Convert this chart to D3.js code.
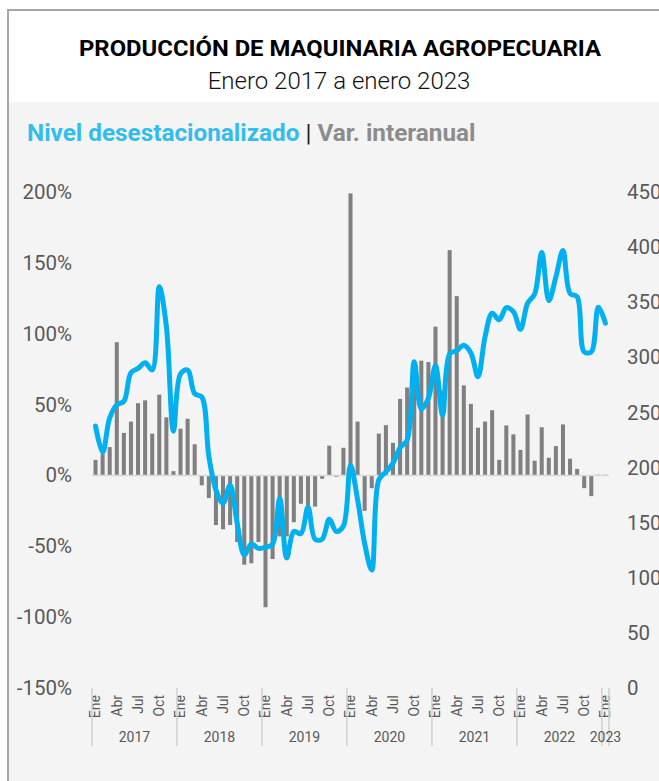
<!DOCTYPE html>
<html>
<head>
<meta charset="utf-8">
<script src="https://cdn.jsdelivr.net/npm/d3@7"></script>
<style>
  html, body { margin: 0; padding: 0; background: #ffffff; }
  svg { display: block; }
  text { font-family: Roboto, "Noto Sans", sans-serif; }
</style>
</head>
<body>
<svg id="chart" width="659" height="781"></svg>
<script>
// ---------------- DATA ----------------
const monthNames = ["Ene","Feb","Mar","Abr","May","Jun","Jul","Ago","Sep","Oct","Nov","Dic"];
const years = ["2017","2018","2019","2020","2021","2022","2023"];

// Var. interanual (%) — bars, Jan 2017 .. Jan 2023
const varInteranual = [
  11, 15, 20, 94, 30, 38, 51, 53, 29.5, 57, 41, 3,
  33, 40, 22, -7, -16, -35, -38, -35, -47, -63, -62, -47,
  -93, -59, -43, -43, -33, -20, -30, -22, -2.4, 21, -1, 19.5,
  199, 38, -25, -9, 29.5, 35.5, 23, 54, 62, 80, 81, 80,
  105, 60, 159, 126.5, 63.5, 50.5, 33.7, 38, 46, 11, 35.3, 29,
  18, 43, 10.4, 34, 12.5, 20.7, 36, 11.8, 4.6, -9, -14.6, 0.5,
  0.5
];

// Nivel desestacionalizado — line (right axis)
const nivelDesest = [
  237.7, 214, 245, 257, 260, 286, 290, 295, 288.5, 364, 328, 233,
  285, 288.5, 267, 264, 210, 179.6, 167.6, 184, 149.4, 120.7, 130.6, 126.7,
  127.6, 130.6, 172, 118, 142, 140, 164, 135, 135, 153, 142, 147,
  202, 171, 131, 107, 189, 196, 204, 218, 225, 296, 253, 263,
  292.5, 247.5, 303, 306, 311, 304, 282.4, 318.7, 340, 334, 345, 341.4,
  325.4, 349, 357.5, 395, 351.4, 373, 397, 358, 355, 305, 305, 345.4,
  331
];

const leftTicks = [-150, -100, -50, 0, 50, 100, 150, 200];
const rightTicks = [0, 50, 100, 150, 200, 250, 300, 350, 400, 450];

const titleText = "PRODUCCIÓN DE MAQUINARIA AGROPECUARIA";
const subtitleText = "Enero 2017 a enero 2023";
const legendBlue = "Nivel desestacionalizado";
const legendGray = "Var. interanual";

// ---------------- LAYOUT ----------------
const W = 659, H = 781;
const svg = d3.select("#chart");

const months = varInteranual.map((d, i) => ({
  i, year: years[Math.floor(i / 12)], month: monthNames[i % 12], v: varInteranual[i], n: nivelDesest[i]
}));

const plotL = 92, plotR = 609, plotT = 192, plotB = 688;

// frame / backgrounds
svg.append("rect").attr("x", 0).attr("y", 0).attr("width", W).attr("height", H).attr("fill", "#ffffff");
svg.append("rect").attr("x", 9).attr("y", 102).attr("width", W - 9).attr("height", H - 102).attr("fill", "#f4f4f4");
svg.append("path").attr("d", `M8,${H} L8,10 L${W},10`).attr("fill", "none").attr("stroke", "#a6a6a6").attr("stroke-width", 2);

// title
svg.append("text").attr("x", 340).attr("y", 56).attr("text-anchor", "middle")
  .attr("font-size", 21.5).attr("font-weight", 700).attr("fill", "#000")
  .attr("textLength", 522).attr("lengthAdjust", "spacingAndGlyphs")
  .text(titleText);
svg.append("text").attr("x", 339).attr("y", 89).attr("text-anchor", "middle")
  .attr("font-size", 24).attr("font-weight", 300).attr("fill", "#111")
  .text(subtitleText);

// legend
const leg = svg.append("text").attr("x", 27).attr("y", 141).attr("font-size", 24.3).attr("font-weight", 700);
leg.append("tspan").attr("fill", "#33bdee").text(legendBlue);
leg.append("tspan").attr("fill", "#222").attr("font-weight", 400).text(" | ");
leg.append("tspan").attr("fill", "#8c8c8c").text(legendGray);

// scales
const x = d3.scaleBand().domain(months.map(d => d.i)).range([plotL, plotR]).paddingInner(0.43).paddingOuter(0.215);
const yL = d3.scaleLinear().domain([-150, 200]).range([plotB, plotT]);
const yR = d3.scaleLinear().domain([0, 450]).range([plotB, plotT]);

// left axis
const axL = svg.append("g").attr("transform", `translate(72,0)`)
  .call(d3.axisLeft(yL).tickValues(leftTicks).tickSize(0).tickPadding(0).tickFormat(d => d + "%"));
axL.select(".domain").remove();
axL.selectAll("text").attr("font-size", 20.5).attr("fill", "#595959").attr("font-family", "Roboto, sans-serif");

// right axis (cut at the right edge, as in the reference)
const axR = svg.append("g").attr("transform", `translate(627,0)`)
  .call(d3.axisRight(yR).tickValues(rightTicks).tickSize(0).tickPadding(0).tickFormat(d3.format("d")));
axR.select(".domain").remove();
axR.selectAll("text").attr("font-size", 20.5).attr("fill", "#595959").attr("font-family", "Roboto, sans-serif");

// bars
svg.append("g").selectAll("rect").data(months).join("rect")
  .attr("x", d => x(d.i))
  .attr("width", x.bandwidth())
  .attr("y", d => yL(Math.max(0, d.v)))
  .attr("height", d => Math.abs(yL(d.v) - yL(0)))
  .attr("fill", "#808080");

// zero line
svg.append("line").attr("x1", plotL).attr("x2", plotR).attr("y1", yL(0)).attr("y2", yL(0))
  .attr("stroke", "#d9d9d9").attr("stroke-width", 1.5);

// line
const line = d3.line().x(d => x(d.i) + x.bandwidth() / 2).y(d => yR(d.n)).curve(d3.curveCatmullRom.alpha(0.5));
svg.append("path").datum(months).attr("d", line)
  .attr("fill", "none").attr("stroke", "#00b0f0").attr("stroke-width", 5)
  .attr("stroke-linejoin", "round").attr("stroke-linecap", "round");

// x axis: month labels (quarterly)
const tickMonths = months.filter(d => d.i % 3 === 0).map(d => d.i);
const axX = svg.append("g").attr("transform", `translate(0,${plotB})`)
  .call(d3.axisBottom(x).tickValues(tickMonths).tickSize(0).tickFormat(i => months[i].month));
axX.select(".domain").remove();
axX.selectAll("text")
  .attr("font-size", 14).attr("fill", "#595959").attr("font-family", "Roboto, sans-serif")
  .attr("text-anchor", "end")
  .attr("transform", "translate(0,7) rotate(-90)")
  .attr("x", 0).attr("y", 0).attr("dy", "0.35em");

// year separators and labels
const step = x.step();
const boundaries = years.map((y, k) => plotL + k * 12 * step).concat([plotR]);
svg.append("g").selectAll("line").data(boundaries).join("line")
  .attr("x1", d => d).attr("x2", d => d).attr("y1", plotB).attr("y2", 746)
  .attr("stroke", "#d0d0d0").attr("stroke-width", 1.5);
svg.append("g").selectAll("text").data(years).join("text")
  .attr("x", (d, k) => (boundaries[k] + boundaries[k + 1]) / 2)
  .attr("y", 742).attr("text-anchor", "middle")
  .attr("font-size", 14).attr("fill", "#595959")
  .text(d => d);
</script>
</body>
</html>
